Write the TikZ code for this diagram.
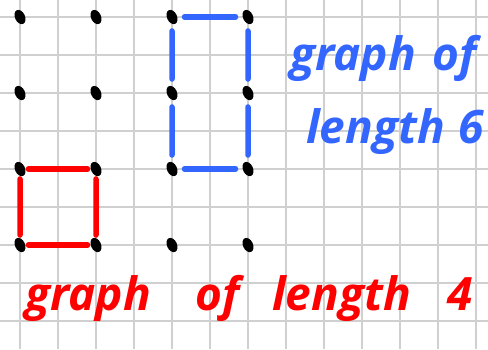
\documentclass[tikz,border=0pt]{standalone}
\usepackage{fontspec}
\setmainfont{Open Sans}
\usepackage{tikz}
\usetikzlibrary{shapes.geometric, positioning, calc}
\definecolor{sixblue}{RGB}{51, 102, 255}
\definecolor{fourred}{RGB}{255, 0, 0}
\definecolor{gridgray}{RGB}{208, 208, 208}

\tikzset{
    dot/.style={ellipse, fill=black, inner sep=0pt, minimum width=10pt, minimum height=15pt, rotate=25},
    redline/.style={fourred, line width=5.5pt, line cap=round, shorten <=3pt, shorten >=3pt},
    blueline/.style={sixblue, line width=5.5pt, line cap=round, shorten <=7pt, shorten >=7pt},
    hand/.style={anchor=base west, inner sep=0pt, font=\fontsize{46}{46}\selectfont\bfseries\itshape}
}

\begin{document}
\begin{tikzpicture}[x=1pt, y=-1pt]
    \useasboundingbox[fill=white] (0,0) rectangle (488,349);
    % Squared paper
    \foreach \k in {0,...,12} {
        \draw[gridgray, line width=1.5pt] ({20+38*\k},0) -- ({20+38*\k},349);
    }
    \foreach \k in {0,...,8} {
        \draw[gridgray, line width=1.5pt] (0,{17+38*\k}) -- (488,{17+38*\k});
    }

    % Lattice points
    \foreach \i in {1,...,4} {
        \foreach \j in {1,...,4} {
            \node[dot] (d\i\j) at ({20+76*(\i-1)},{17+76*(\j-1)}) {};
        }
    }

    % Cycle of length 4
    \draw[redline] (d13) -- (d23);
    \draw[redline] (d23) -- (d24);
    \draw[redline] (d24) -- (d14);
    \draw[redline] (d14) -- (d13);

    % Cycle of length 6
    \draw[blueline] (d31) -- (d41);
    \draw[blueline] (d41) -- (d42);
    \draw[blueline] (d42) -- (d43);
    \draw[blueline] (d43) -- (d33);
    \draw[blueline] (d33) -- (d32);
    \draw[blueline] (d32) -- (d31);

    % Labels
    \node[hand, sixblue] (bg) at (290,70) {graph};
    \node[hand, sixblue] (bo) at (432,70) {of};
    \node[hand, sixblue] (bl) at (306,143) {length};
    \node[hand, sixblue] (bn) at (458,143) {6};
    \node[hand, fourred] (rg) at (25,310) {graph};
    \node[hand, fourred] (ro) at (195,310) {of};
    \node[hand, fourred] (rl) at (272,310) {length};
    \node[hand, fourred] (rn) at (447,310) {4};
\end{tikzpicture}
\end{document}
